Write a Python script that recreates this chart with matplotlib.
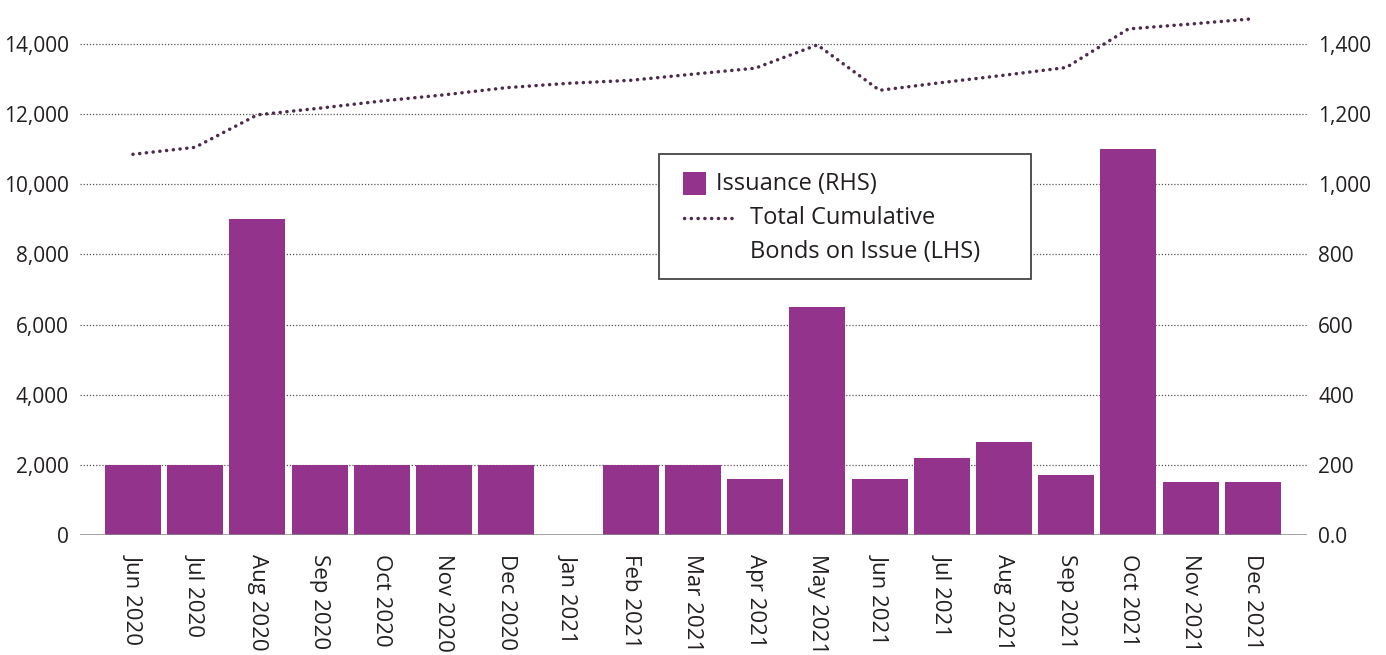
import numpy as np
import matplotlib
matplotlib.use('Agg')
import matplotlib.pyplot as plt
from matplotlib.patches import Rectangle
from matplotlib.lines import Line2D

months = ['Jun 2020', 'Jul 2020', 'Aug 2020', 'Sep 2020', 'Oct 2020', 'Nov 2020', 'Dec 2020',
          'Jan 2021', 'Feb 2021', 'Mar 2021', 'Apr 2021', 'May 2021', 'Jun 2021', 'Jul 2021',
          'Aug 2021', 'Sep 2021', 'Oct 2021', 'Nov 2021', 'Dec 2021']
# monthly issuance, right-hand scale
issuance = [200, 200, 900, 200, 200, 200, 200, 0, 200, 200, 160, 650, 160, 220, 265, 170, 1100, 150, 150]
# total cumulative bonds on issue, left-hand scale
cumulative = [10855, 11055, 11980, 12170, 12375, 12550, 12755, 12880, 12965, 13140, 13310, 13975,
              12680, 12900, 13110, 13330, 14430, 14570, 14720]
lhs_ticks = [0, 2000, 4000, 6000, 8000, 10000, 12000, 14000]
rhs_ticks = [0, 200, 400, 600, 800, 1000, 1200, 1400]
rhs_labels = ['0.0', '200', '400', '600', '800', '1,000', '1,200', '1,400']

bar_col = '#93338B'
line_col = '#4E2A4C'
txt_col = '#231F20'
dots = (0, (0.05, 1.9))

plt.rcParams['font.family'] = ['Open Sans', 'DejaVu Sans']
plt.rcParams['font.size'] = 15

fig = plt.figure(figsize=(13.86, 6.55), dpi=100)
ax = fig.add_axes([80/1386, 120/655, 1227/1386, 535/655])
ax2 = ax.twinx()

x = np.arange(len(months))
ax.plot(x, cumulative, color=line_col, lw=2.5, linestyle=dots, dash_capstyle='round')
ax2.bar(x, issuance, width=0.9, color=bar_col, zorder=3)

ax.set_xlim(-0.85, 18.87)
ax.set_ylim(0, 15255)
ax2.set_ylim(0, 1525.5)
ax.set_yticks(lhs_ticks)
ax.set_yticklabels([f'{v:,}' for v in lhs_ticks])
ax2.set_yticks(rhs_ticks)
ax2.set_yticklabels(rhs_labels)
ax.set_xticks(x)
ax.set_xticklabels(months, rotation=270, va='top', ha='center', fontsize=16)

for a in (ax, ax2):
    for s in a.spines.values():
        s.set_visible(False)
    a.tick_params(length=0, colors=txt_col)
ax.tick_params(axis='y', pad=8, labelsize=15)
ax2.tick_params(axis='y', pad=8, labelsize=15)
ax.tick_params(axis='x', pad=14)

for v in lhs_ticks[1:]:
    ax.axhline(v, color='#555555', lw=0.9, linestyle=(0, (1, 1.5)), zorder=0)
ax2.axhline(0, color='#888888', lw=1.8, zorder=4)

# legend box
W, H = 1386, 655
def fx(px): return px / W
def fy(py): return 1 - py / H
fig.patches.append(Rectangle((fx(659), fy(279)), fx(1031) - fx(659), fy(154) - fy(279),
                             transform=fig.transFigure, facecolor='white', edgecolor='#444444',
                             lw=1.3, zorder=10))
fig.patches.append(Rectangle((fx(683), fy(195)), fx(706) - fx(683), fy(172) - fy(195),
                             transform=fig.transFigure, facecolor=bar_col, edgecolor='none', zorder=11))
fig.lines.append(Line2D([fx(684), fx(733)], [fy(218), fy(218)], transform=fig.transFigure,
                        color=line_col, lw=2.5, linestyle=dots, dash_capstyle='round', zorder=11))
fig.text(fx(716), fy(184), 'Issuance (RHS)', va='center', ha='left', color=txt_col, fontsize=17, zorder=12)
fig.text(fx(750), fy(218), 'Total Cumulative', va='center', ha='left', color=txt_col, fontsize=17, zorder=12)
fig.text(fx(750), fy(252), 'Bonds on Issue (LHS)', va='center', ha='left', color=txt_col, fontsize=17, zorder=12)

fig.savefig('out.png', dpi=100)
